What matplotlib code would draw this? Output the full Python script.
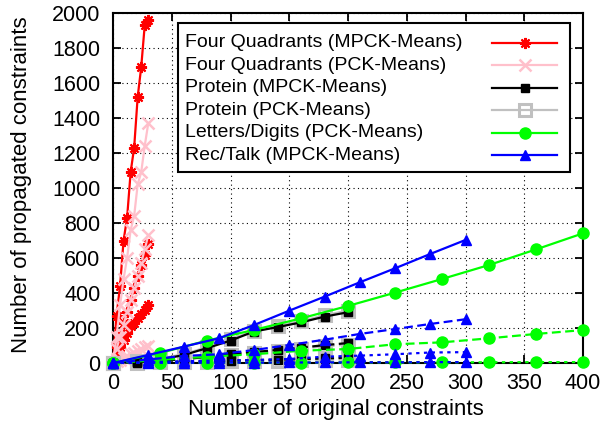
import matplotlib
matplotlib.use("Agg")
import matplotlib.pyplot as plt
from matplotlib.patches import Rectangle

plt.rcParams['font.family'] = ['Liberation Sans', 'DejaVu Sans']

# Four Quadrants
fq_x = [0, 3, 6, 9, 12, 15, 18, 21, 24, 27, 30]
fq_mpck = [0, 270, 440, 700, 830, 1090, 1230, 1520, 1690, 1930, 1960]
fq_mpck_2 = [0, 90, 160, 230, 290, 360, 430, 500, 560, 620, 680]
fq_mpck_3 = [0, 40, 90, 130, 170, 210, 230, 255, 280, 305, 330]
fq_pck = [0, 150, 330, 480, 600, 760, 840, 1020, 1090, 1240, 1370]
fq_pck_2 = [0, 80, 150, 220, 290, 360, 430, 500, 570, 650, 730]
fq_pck_3 = [0, 10, 20, 30, 40, 50, 60, 70, 80, 90, 100]

# Protein
pr_x = [0, 20, 40, 60, 80, 100, 120, 140, 160, 180, 200]
pr_mpck = [0, 8, 20, 45, 85, 128, 180, 205, 232, 265, 290]
pr_mpck_2 = [0, 5, 12, 22, 35, 50, 62, 75, 88, 102, 114]
pr_mpck_3 = [0, 2, 4, 7, 10, 13, 16, 19, 22, 26, 30]
pr_pck = [0, 10, 25, 50, 90, 135, 185, 212, 240, 272, 300]
pr_pck_2 = [0, 5, 12, 20, 32, 45, 58, 70, 82, 95, 105]
pr_pck_3 = [0, 1, 3, 5, 7, 9, 11, 13, 15, 18, 20]

# Letters/Digits
ld_x = [0, 40, 80, 120, 160, 200, 240, 280, 320, 360, 400]
ld_pck = [0, 57, 128, 189, 255, 326, 402, 480, 560, 649, 741]
ld_pck_2 = [0, 17, 36, 50, 70, 80, 107, 118, 141, 166, 188]
ld_pck_3 = [0, 1, 1, 2, 2, 3, 3, 4, 4, 5, 5]

# Rec/Talk
rt_x = [0, 30, 60, 90, 120, 150, 180, 210, 240, 270, 300]
rt_mpck = [0, 46, 93, 141, 217, 299, 379, 461, 541, 623, 703]
rt_mpck_2 = [0, 20, 40, 50, 74, 103, 133, 166, 194, 223, 250]
rt_mpck_3 = [0, 5, 10, 14, 17, 23, 36, 42, 50, 60, 62]
rt_mpck_4 = [0, 1, 1, 2, 2, 3, 3, 4, 4, 5, 5]

labels = ["Four Quadrants (MPCK-Means)", "Four Quadrants (PCK-Means)",
          "Protein (MPCK-Means)", "Protein (PCK-Means)",
          "Letters/Digits (PCK-Means)", "Rec/Talk (MPCK-Means)"]

DASH = (0, (4, 2))
DOT = (0, (1.5, 2))

styles = [
    dict(color='#ff0000', marker=(8, 2, 0), ms=8, mew=1.5),
    dict(color='#ffc0cb', marker='x', ms=8, mew=1.8),
    dict(color='black', marker='s', ms=6),
    dict(color='#c0c0c0', marker='s', ms=9, mfc='none', mew=2.2),
    dict(color='#00ff00', marker='o', ms=8),
    dict(color='#0000ff', marker='^', ms=7),
]

series = [
    (fq_x, [fq_mpck, fq_mpck_2, fq_mpck_3], 0),
    (fq_x, [fq_pck, fq_pck_2, fq_pck_3], 1),
    (pr_x, [pr_pck, pr_pck_2, pr_pck_3], 3),
    (pr_x, [pr_mpck, pr_mpck_2, pr_mpck_3], 2),
    (ld_x, [ld_pck, ld_pck_2, ld_pck_3], 4),
    (rt_x, [rt_mpck, rt_mpck_2, rt_mpck_3, rt_mpck_4], 5),
]
lstyles = ['-', DASH, DOT, DOT]

fig = plt.figure(figsize=(6.05, 4.3), dpi=100)
ax = fig.add_axes([113/605, 67/430, 470/605, 350/430])

for xs, ys_list, k in series:
    for j, ys in enumerate(ys_list):
        ax.plot(xs, ys, ls=lstyles[j], lw=1.6, clip_on=False, zorder=3, **styles[k])

ax.set_xlim(0, 400)
ax.set_ylim(0, 2000)
ax.set_xticks(range(0, 401, 50))
ax.set_yticks(range(0, 2001, 200))
ax.grid(True, color='black', ls=(0, (1, 3)), lw=0.8)
ax.set_axisbelow(True)
ax.tick_params(direction='in', length=6, width=1.3, top=True, right=True,
               labelsize=15.5, pad=7)
ax.tick_params(axis='y', pad=9)
for s in ax.spines.values():
    s.set_linewidth(1.5)

fig.text(336/605, 1 - 410/430, "Number of original constraints",
         ha='center', va='center', fontsize=16)
fig.text(22/605, 1 - 185/430, "Number of propagated constraints",
         ha='center', va='center', rotation=90, fontsize=16)

# legend box (gnuplot style: text left, sample right)
ax.add_patch(Rectangle((0.138, 0.546), 0.834, 0.425, transform=ax.transAxes,
                       facecolor='white', edgecolor='black', lw=1.5, zorder=5))
for i, lab in enumerate(labels):
    y = (363 - (42.7 + 22.5 * i)) / 350
    ax.text(0.153, y, lab, transform=ax.transAxes, va='center', ha='left',
            fontsize=14, zorder=6)
    st = dict(styles[i])
    ax.plot([0.806, 0.945], [y, y], transform=ax.transAxes, color=st['color'],
            lw=1.6, zorder=6)
    ax.plot([0.876], [y], transform=ax.transAxes, ls='none', zorder=7, **st)

fig.savefig("out.png", dpi=100)
